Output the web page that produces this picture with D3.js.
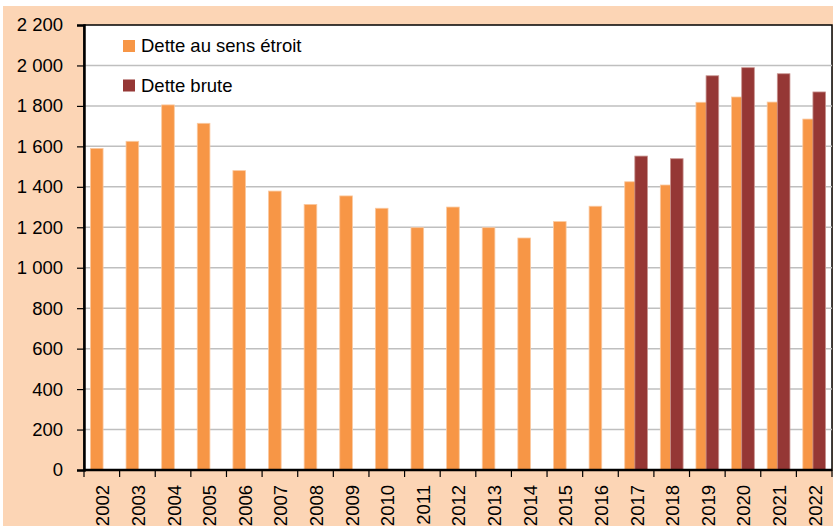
<!DOCTYPE html>
<meta charset="utf-8">
<script src="https://d3js.org/d3.v7.min.js"></script>
<style>
  body { margin: 0; background: #fff; }
  text { font-family: "Liberation Sans", Arial, sans-serif; fill: #000; }
</style>
<div id="chart"></div>
<script>
  // values
  const years = ["2002", "2003", "2004", "2005", "2006", "2007", "2008", "2009", "2010", "2011", "2012",
    "2013", "2014", "2015", "2016", "2017", "2018", "2019", "2020", "2021", "2022"];
  const detteEtroit = [1590, 1625, 1805, 1714, 1480, 1379, 1313, 1355, 1294, 1198, 1300,
    1198, 1147, 1228, 1304, 1425, 1409, 1818, 1844, 1819, 1735];
  const detteBrute = [null, null, null, null, null, null, null, null, null, null, null,
    null, null, null, null, 1552, 1539, 1949, 1989, 1959, 1869];
  const seriesNames = ["Dette au sens étroit", "Dette brute"];
  const seriesColors = ["#F79646", "#953735"];
  const yTicks = [0, 200, 400, 600, 800, 1000, 1200, 1400, 1600, 1800, 2000, 2200];

  const width = 833, height = 526;
  const plotL = 84, plotR = 832, plotT = 25, plotB = 470;
  const fontSize = "18.5px";

  const fr = d3.formatLocale({ decimal: ",", thousands: " ", grouping: [3], currency: ["", " €"] });
  const fmt = fr.format(",d");

  const svg = d3.select("#chart").append("svg")
    .attr("width", width).attr("height", height);

  // peach frame
  svg.append("rect").attr("x", 3).attr("y", 6).attr("width", width - 3).attr("height", height - 6)
    .attr("fill", "#FCD5B5");

  const x = d3.scaleBand().domain(years).range([plotL, plotR]);
  const y = d3.scaleLinear().domain([0, 2200]).range([plotB, plotT]);

  svg.append("rect").attr("x", plotL).attr("y", plotT).attr("width", plotR - plotL).attr("height", plotB - plotT)
    .attr("fill", "#fff").attr("stroke", "#000").attr("stroke-width", 1.5);

  // gridlines
  svg.append("g").selectAll("line").data(yTicks.slice(1, -1)).join("line")
    .attr("x1", plotL).attr("x2", plotR)
    .attr("y1", d => y(d)).attr("y2", d => y(d))
    .attr("stroke", "#BFBFBF").attr("stroke-width", 1.5);

  // bars
  const bw = x.bandwidth() * 0.355;
  const overlap = bw * 0.2;
  const groupW = bw * 2 - overlap;
  const series = [detteEtroit, detteBrute];
  series.forEach((vals, i) => {
    const rows = years.map((yr, j) => ({ yr, v: vals[j] })).filter(d => d.v != null);
    svg.append("g").selectAll("rect").data(rows).join("rect")
      .attr("x", d => x(d.yr) + x.bandwidth() / 2 - groupW / 2 + i * (bw - overlap))
      .attr("y", d => y(d.v))
      .attr("width", bw)
      .attr("height", d => y(0) - y(d.v))
      .attr("fill", seriesColors[i])
      .attr("stroke", i === 0 ? "#FAC9A0" : "#C99490")
      .attr("stroke-width", 0.8);
  });

  // y axis
  const yAxis = svg.append("g").attr("transform", `translate(${plotL},0)`)
    .call(d3.axisLeft(y).tickValues(yTicks).tickFormat(fmt).tickSize(7).tickPadding(14));
  yAxis.select(".domain").attr("stroke", "#000").attr("stroke-width", 2.5);
  yAxis.selectAll(".tick line").attr("stroke", "#000").attr("stroke-width", 1.2);
  yAxis.selectAll(".tick text").style("font-size", fontSize).attr("fill", "#000");

  // x axis, ticks on category boundaries
  const xg = svg.append("g");
  xg.append("line").attr("x1", plotL).attr("x2", plotR).attr("y1", plotB).attr("y2", plotB)
    .attr("stroke", "#000").attr("stroke-width", 2.5);
  xg.selectAll(".xt").data(years.concat(["end"])).join("line")
    .attr("x1", (d, i) => plotL + i * x.step()).attr("x2", (d, i) => plotL + i * x.step())
    .attr("y1", plotB).attr("y2", plotB + 7)
    .attr("stroke", "#000").attr("stroke-width", 1.2);
  xg.selectAll("text").data(years).join("text")
    .attr("transform", d => `translate(${x(d) + x.bandwidth() / 2 + 1},485) rotate(-90)`)
    .attr("text-anchor", "end").attr("dy", "0.35em")
    .style("font-size", fontSize)
    .text(d => d);

  // legend
  const legend = svg.append("g");
  seriesNames.forEach((name, i) => {
    const ly = 40 + i * 39.5;
    legend.append("rect").attr("x", 123).attr("y", ly).attr("width", 12).attr("height", 12)
      .attr("fill", seriesColors[i]);
    legend.append("text").attr("x", 141).attr("y", ly + 12).style("font-size", fontSize).text(name);
  });
</script>
